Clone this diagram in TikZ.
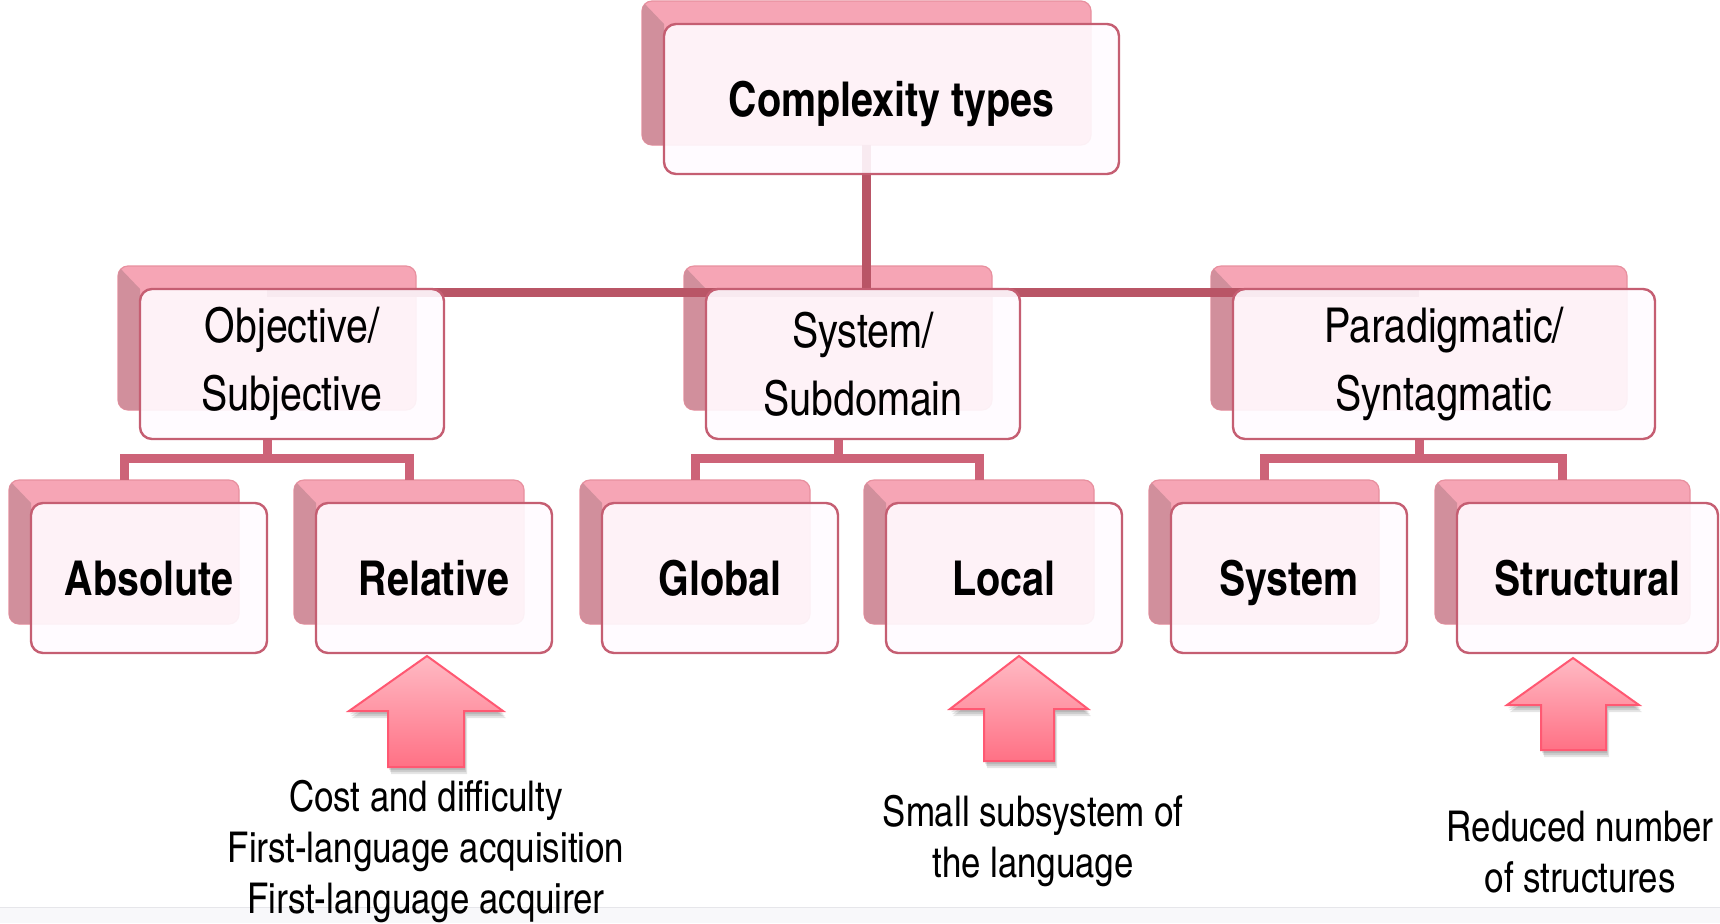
\documentclass[tikz,border=0pt]{standalone}
\usepackage{fontspec}
\setmainfont{texgyreheroscn}[Extension=.otf,UprightFont=*-regular,BoldFont=*-bold,ItalicFont=*-italic,BoldItalicFont=*-bolditalic]
\usetikzlibrary{calc}
\pgfdeclarelayer{canvas}
\pgfdeclarelayer{backs}
\pgfdeclarelayer{links}
\pgfsetlayers{canvas,backs,links,main}

\definecolor{busred}{HTML}{B95566}
\definecolor{brkred}{HTML}{CD6378}
\definecolor{backpink}{HTML}{F6A5B5}
\definecolor{backrim}{HTML}{E8909F}
\definecolor{backside}{HTML}{D18F9C}
\definecolor{frontfill}{HTML}{FFFBFF}
\definecolor{frontrim}{HTML}{C55E72}
\definecolor{arrowtop}{HTML}{FFBAC4}
\definecolor{arrowbot}{HTML}{FF7185}
\definecolor{arrowrim}{HTML}{FF5872}
\definecolor{footband}{HTML}{F8F8FA}
\definecolor{footline}{HTML}{E6E6EA}

\tikzset{
  backbox/.style={rectangle, rounded corners=5pt, fill=backpink, draw=backrim,
    line width=0.6pt, inner sep=0pt, outer sep=0pt},
  frontbox/.style={rectangle, rounded corners=6pt, fill=frontfill, fill opacity=0.9,
    text opacity=1, draw=frontrim, draw opacity=1, line width=1.2pt,
    inner sep=0pt, outer sep=0pt, align=center},
  buslink/.style={draw=busred, line width=4.5pt},
  brklink/.style={draw=brkred, line width=4.5pt, line join=miter},
  headfont/.style={font=\fontsize{24}{30}\selectfont\bfseries, text height=17pt, text depth=0pt},
  midfont/.style={font=\fontsize{24}{34}\selectfont},
  leaffont/.style={font=\fontsize{24}{30}\selectfont\bfseries, text height=17pt, text depth=0pt},
  note/.style={font=\fontsize{21.2}{25.5}\selectfont, align=center, inner sep=0pt},
  blockarrow/.style={draw=arrowrim, line width=1pt, line join=miter,
    top color=arrowtop, bottom color=arrowbot}
}

% a box with its offset pink backing plate
% #1 name, #2 x1, #3 y1, #4 x2, #5 y2, #6 font style, #7 text
\newcommand\tierbox[7]{%
  \pgfmathsetmacro\tbw{(#4-#2)*0.5}%
  \pgfmathsetmacro\tbh{(#5-#3)*0.5}%
  \pgfmathsetmacro\tbcx{(#2+#4)/2}%
  \pgfmathsetmacro\tbcy{(#3+#5)/2}%
  \pgfmathsetmacro\bkxa{#2-22}%
  \pgfmathsetmacro\bkya{#3-23}%
  \pgfmathsetmacro\bkxb{#4-28}%
  \pgfmathsetmacro\bkyb{#5-29}%
  \pgfmathsetmacro\bkw{(\bkxb-\bkxa)*0.5}%
  \pgfmathsetmacro\bkh{(\bkyb-\bkya)*0.5}%
  \begin{pgfonlayer}{backs}
    \node[backbox, minimum width=\bkw pt, minimum height=\bkh pt]
      (#1B) at ({(\bkxa+\bkxb)/2},{(\bkya+\bkyb)/2}) {};
    \begin{scope}
      \clip[rounded corners=5pt] (\bkxa,\bkya) rectangle (\bkxb,\bkyb);
      \fill[backside] (\bkxa,\bkya) -- (#2,#3) -- (#2,\bkyb) -- (\bkxa,\bkyb) -- cycle;
    \end{scope}
  \end{pgfonlayer}
  \node[frontbox, #6, minimum width=\tbw pt, minimum height=\tbh pt]
    (#1) at (\tbcx,\tbcy) {#7};
}

% upward block arrow: tip x, tip y, head base y, head left, head right,
% shaft left, shaft right, bottom y
\newcommand\upblock[8]{%
  \foreach \sx/\sy in {1/3,2/5,3/7}{
    \fill[black, opacity=0.1, shift={(\sx,\sy)}]
      (#1,#2) -- (#5,#3) -- (#7,#3) -- (#7,#8) -- (#6,#8) -- (#6,#3) -- (#4,#3) -- cycle;
  }
  \path[blockarrow]
    (#1,#2) -- (#5,#3) -- (#7,#3) -- (#7,#8) -- (#6,#8) -- (#6,#3) -- (#4,#3) -- cycle;
}

\begin{document}
\begin{tikzpicture}[x=0.5pt, y=-0.5pt]
  \useasboundingbox (0,0) rectangle (1720,923);
  \begin{pgfonlayer}{canvas}
    \fill[white] (0,0) rectangle (1720,923);
    % footer strip
    \fill[footband] (0,907) rectangle (1720,923);
    \draw[footline, line width=0.5pt] (0,907) -- (1720,907);
  \end{pgfonlayer}

  % boxes
  \tierbox{top}{664}{24}{1119}{174}{headfont}{Complexity types}

  \tierbox{obj}{140}{289}{444}{439}{midfont}{Objective/\\Subjective}
  \tierbox{sys}{706}{289}{1020}{439}{midfont}{System/\\Subdomain}
  \tierbox{par}{1233}{289}{1655}{439}{midfont}{Paradigmatic/\\Syntagmatic}

  \tierbox{abs}{31}{503}{267}{653}{leaffont}{Absolute}
  \tierbox{rel}{316}{503}{552}{653}{leaffont}{Relative}
  \tierbox{glo}{602}{503}{838}{653}{leaffont}{Global}
  \tierbox{loc}{886}{503}{1122}{653}{leaffont}{Local}
  \tierbox{sst}{1171}{503}{1407}{653}{leaffont}{System}
  \tierbox{str}{1457}{503}{1718}{653}{leaffont}{Structural}

  % connectors
  \coordinate (bus) at (0,292);
  \coordinate (brk) at (0,458.5);
  \begin{pgfonlayer}{links}
    \draw[buslink] (objB |- bus) -- (parB |- bus);
    \draw[buslink] (topB.south) -- (topB.south |- bus);

    \draw[brklink] (objB |- obj.south) -- (objB |- brk);
    \draw[brklink] (absB.north) -- (absB |- brk) -- (relB |- brk) -- (relB.north);

    \draw[brklink] (sysB |- sys.south) -- (sysB |- brk);
    \draw[brklink] (gloB.north) -- (gloB |- brk) -- (locB |- brk) -- (locB.north);

    \draw[brklink] (parB |- par.south) -- (parB |- brk);
    \draw[brklink] (sstB.north) -- (sstB |- brk) -- (strB |- brk) -- (strB.north);
  \end{pgfonlayer}

  % pointers
  \upblock{427}{656}{711}{349}{503}{388}{464}{767}
  \upblock{1019}{656}{709}{950}{1088}{984}{1054}{761}
  \upblock{1573}{658}{705}{1507}{1639}{1541}{1606}{750}

  % notes
  \node[note] (n1) at (426,852) {Cost and difficulty\\First-language acquisition\\First-language acquirer};
  \node[note] (n2) at (1033,841) {Small subsystem of\\the language};
  \node[note] (n3) at (1580,852) {Reduced number\\of structures};
\end{tikzpicture}
\end{document}
